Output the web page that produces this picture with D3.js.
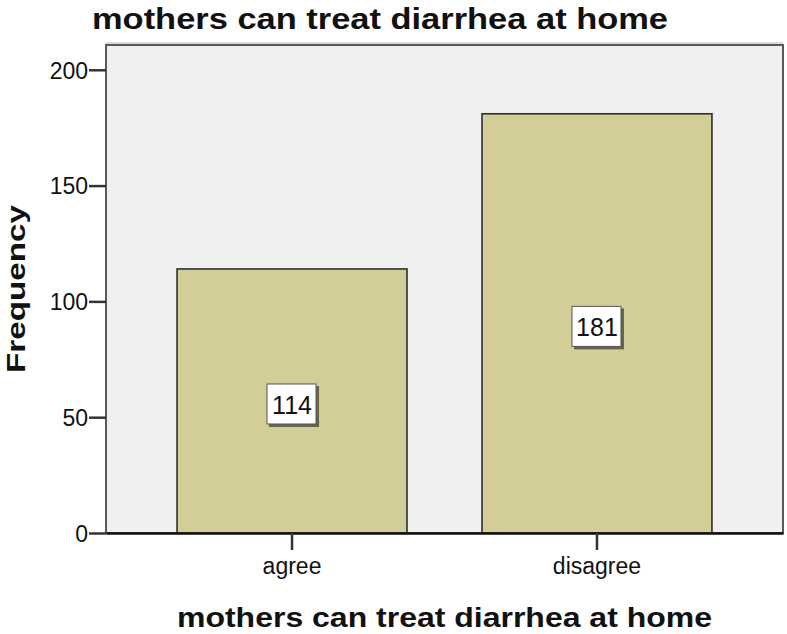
<!DOCTYPE html>
<html lang="en">
<head>
  <meta charset="UTF-8">
  <title>mothers can treat diarrhea at home</title>
  <script src="https://d3js.org/d3.v7.min.js"></script>
  <style>
    body { margin: 0; background: #fff; }
    text { font-family: 'Liberation Sans', Arial, sans-serif; fill: #111; }
    .tick text { font-size: 23px; fill: #111; }
    .title { font-weight: bold; }
  </style>
</head>
<body>
  <svg width="787" height="634"></svg>

  <script>
    // The data
    const categories = ["agree", "disagree"];
    const counts = [114, 181];
    const yTicks = [0, 50, 100, 150, 200];
    const titleText = "mothers can treat diarrhea at home";

    const svg = d3.select("svg");
    const margin = { top: 45, right: 4, bottom: 101, left: 106 };
    const width = +svg.attr("width") - margin.left - margin.right;
    const height = +svg.attr("height") - margin.top - margin.bottom;
    const g = svg.append("g").attr("transform", `translate(${margin.left},${margin.top})`);

    const x = d3.scaleBand()
      .domain(categories)
      .range([0, width])
      .paddingInner(0.246)
      .paddingOuter(0.233);
    const y = d3.scaleLinear()
      .domain([0, 210.7])
      .range([height, 0]);

    // plot background + frame
    g.append("rect")
      .attr("width", width).attr("height", height)
      .attr("fill", "#f0f0f0")
      .attr("stroke", "#5a5a5a")
      .attr("stroke-width", 2);
    g.append("line")
      .attr("x1", 0).attr("x2", width).attr("y1", -2).attr("y2", -2)
      .attr("stroke", "#b5b5b5").attr("stroke-width", 1);

    // bars
    g.selectAll(".bar")
      .data(counts)
      .enter().append("rect")
      .attr("class", "bar")
      .attr("x", (d, i) => x(categories[i]))
      .attr("y", d => y(d))
      .attr("width", x.bandwidth())
      .attr("height", d => height - y(d))
      .attr("fill", "#d3ce97")
      .attr("stroke", "#2e2e2e")
      .attr("stroke-width", 1.6);

    // value labels in boxes
    const lab = g.selectAll(".lab")
      .data(counts)
      .enter().append("g")
      .attr("class", "lab")
      .attr("transform", (d, i) => `translate(${x(categories[i]) + x.bandwidth() / 2},${y(d / 2) + 3})`);
    lab.append("rect")
      .attr("x", -23).attr("y", -18).attr("width", 50).attr("height", 41)
      .attr("fill", "#4a4a3a").attr("opacity", 0.8);
    lab.append("rect")
      .attr("x", -25).attr("y", -20).attr("width", 49).attr("height", 40)
      .attr("fill", "#fff").attr("stroke", "#555").attr("stroke-width", 1);
    lab.append("text")
      .attr("text-anchor", "middle")
      .attr("y", 10)
      .style("font-size", "25px")
      .text(d => d);

    // axes
    const yAxis = g.append("g")
      .call(d3.axisLeft(y).tickValues(yTicks).tickSize(17).tickPadding(1).tickSizeOuter(0));
    yAxis.select(".domain").remove();
    yAxis.selectAll(".tick line").attr("stroke", "#333").attr("stroke-width", 2.5);
    yAxis.selectAll(".tick text").attr("dy", "0.36em");

    const xAxis = g.append("g")
      .attr("transform", `translate(0,${height})`)
      .call(d3.axisBottom(x).tickSize(17).tickPadding(8).tickSizeOuter(0));
    xAxis.select(".domain").attr("stroke", "#111").attr("stroke-width", 2.5);
    xAxis.selectAll(".tick line").attr("stroke", "#333").attr("stroke-width", 2.5);

    // titles
    svg.append("text")
      .attr("class", "title")
      .attr("x", 92).attr("y", 29)
      .attr("textLength", 576)
      .attr("lengthAdjust", "spacingAndGlyphs")
      .style("font-size", "30px")
      .text(titleText);

    svg.append("text")
      .attr("class", "title")
      .attr("x", 177).attr("y", 627)
      .attr("textLength", 535)
      .attr("lengthAdjust", "spacingAndGlyphs")
      .style("font-size", "27px")
      .text(titleText);

    svg.append("text")
      .attr("class", "title")
      .attr("transform", "translate(25,289) rotate(-90)")
      .attr("text-anchor", "middle")
      .attr("textLength", 168)
      .attr("lengthAdjust", "spacingAndGlyphs")
      .style("font-size", "26px")
      .text("Frequency");
  </script>
</body>
</html>
